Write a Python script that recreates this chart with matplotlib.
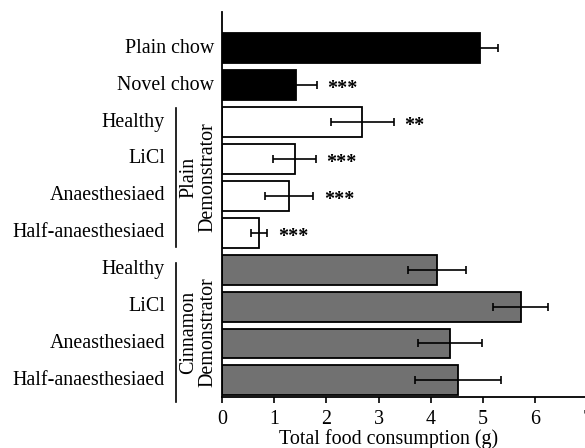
import matplotlib
matplotlib.use("Agg")
import matplotlib.pyplot as plt
from matplotlib.transforms import blended_transform_factory

plt.rcParams['font.family'] = ['Liberation Serif', 'DejaVu Serif']

labels = ["Plain chow", "Novel chow", "Healthy", "LiCl", "Anaesthesiaed",
          "Half-anaesthesiaed", "Healthy", "LiCl", "Aneasthesiaed", "Half-anaesthesiaed"]
values = [4.94, 1.42, 2.69, 1.39, 1.29, 0.71, 4.12, 5.72, 4.37, 4.52]
errors = [0.35, 0.40, 0.60, 0.41, 0.46, 0.16, 0.55, 0.53, 0.61, 0.83]
stars = ["", "***", "**", "***", "***", "***", "", "", "", ""]
colors = ["black", "black", "white", "white", "white", "white",
          "#717171", "#717171", "#717171", "#717171"]
groups = [("Plain\nDemonstrator", 2, 5), ("Cinnamon\nDemonstrator", 6, 9)]
xticks = [0, 1, 2, 3, 4, 5, 6, 7]

FS = 14.4
fig = plt.figure(figsize=(5.85, 4.48), dpi=100)
ax = fig.add_axes([222/585, 1-397/448, 365.4/585, 385/448])

ypos = list(range(len(values)))
ax.barh(ypos, values, height=0.81, color=colors, edgecolor="black", linewidth=1.3,
        xerr=errors, error_kw=dict(ecolor="black", elinewidth=1.2, capsize=3, capthick=1.2))

ax.set_xlim(0, 7)
ax.set_ylim(9.45, -0.98)
ax.set_yticks([])
ax.set_xticks(xticks)
ax.tick_params(axis='x', direction='out', length=4, width=1.2, labelsize=FS, pad=5)
for s in ['top', 'right']:
    ax.spines[s].set_visible(False)
for s in ['left', 'bottom']:
    ax.spines[s].set_linewidth(1.3)
ax.set_xlabel("Total food consumption (g)", fontsize=FS)
ax.xaxis.set_label_coords(0.455, -0.083)

trans = blended_transform_factory(fig.transFigure, ax.transData)
for i, lab in enumerate(labels):
    xr = 214/585 if i < 2 else 165/585
    ax.text(xr, i, lab, transform=trans, ha='right', va='center', fontsize=FS)

for i, s in enumerate(stars):
    if s:
        ax.text(values[i] + errors[i] + 0.2, i + 0.25, s, ha='left', va='baseline',
                fontsize=14.5, fontweight='bold')

for (name, a, b) in groups:
    if a == 2:
        y0, y1 = a - 0.38, b + 0.39
    else:
        y0, y1 = a - 0.17, b + 0.58
    ax.plot([175.7/585, 175.7/585], [y0, y1], transform=trans, color='black',
            lw=1.2, clip_on=False)
    ax.text(198/585, (y0 + y1) / 2, name, transform=trans, rotation=90,
            ha='center', va='center', fontsize=FS, linespacing=1.0,
            multialignment='center')

fig.savefig("out.png", dpi=100)
